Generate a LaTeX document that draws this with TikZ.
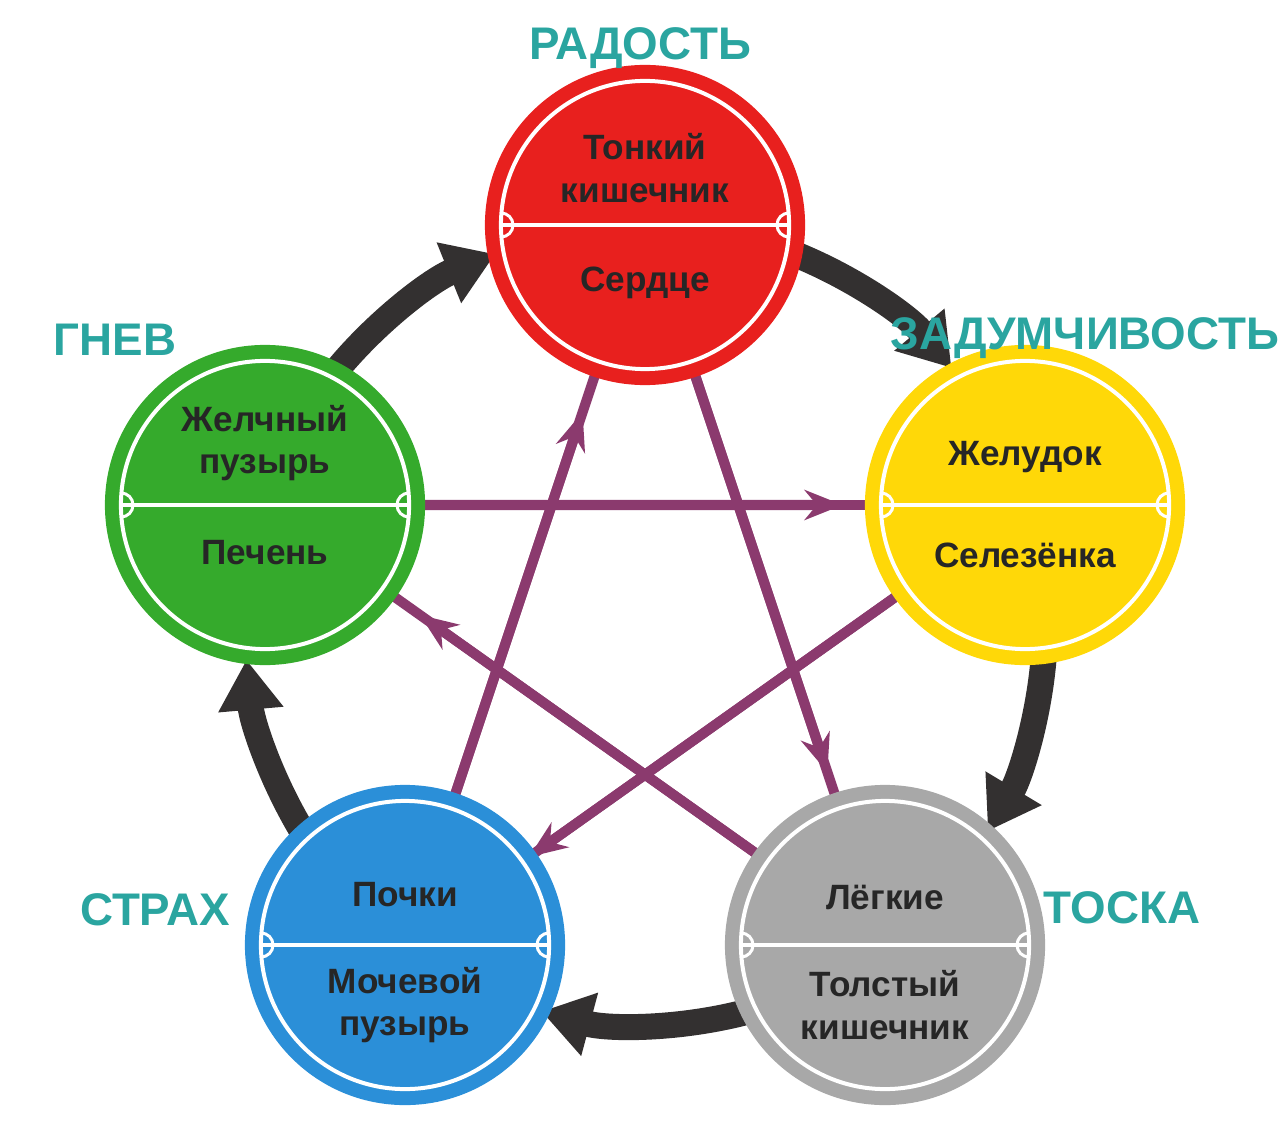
\documentclass[tikz,border=0pt]{standalone}
\usepackage{fontspec}
\setmainfont{Liberation Sans}
\usetikzlibrary{arrows.meta,calc}
\definecolor{cred}{HTML}{E8201E}
\definecolor{cgreen}{HTML}{35AA2C}
\definecolor{cyellow}{HTML}{FFD808}
\definecolor{cblue}{HTML}{2B8FD8}
\definecolor{cgray}{HTML}{A8A8A8}
\definecolor{teal2}{HTML}{2AA5A0}
\definecolor{plum}{HTML}{8B3A6E}
\definecolor{dark}{HTML}{333030}
\tikzset{
 organ/.style={circle,minimum size=3.2cm,inner sep=0pt},
 emo/.style={text=teal2,font=\bfseries\fontsize{13}{13}\selectfont},
 txt/.style={font=\bfseries\fontsize{10}{12}\selectfont,text=black!85,align=center},
 cyc/.style={draw=dark,line width=0.26cm,-{Triangle[length=0.5cm,width=0.62cm]}},
 star/.style={draw=plum,line width=0.1cm},
 starh/.style={draw=plum,line width=0.1cm,-{Stealth[length=0.38cm,width=0.3cm]}}
}
\begin{document}
\begin{tikzpicture}[x=0.01cm,y=-0.01cm]
\useasboundingbox (0,0) rectangle (1280,1134);
\coordinate (C) at (645,625);
% cycle arrows
\draw[cyc] ($(C)+(69:400 and -400)$) arc[start angle=69,end angle=40,radius=4cm];
\draw[cyc] ($(C)+(-4:400 and -400)$) arc[start angle=-4,end angle=-31,radius=4cm];
\draw[cyc] ($(C)+(-75:400 and -400)$) arc[start angle=-75,end angle=-105,radius=4cm];
\draw[cyc] ($(C)+(-148:400 and -400)$) arc[start angle=-148,end angle=-175,radius=4cm];
\draw[cyc] ($(C)+(141:400 and -400)$) arc[start angle=141,end angle=112,radius=4cm];
% nodes
\coordinate (pr) at (645,225);
\coordinate (py) at (1025,505);
\coordinate (pg) at (885,945);
\coordinate (pb) at (405,945);
\coordinate (pgr) at (265,505);
% star
\draw[star] (pgr)--(py); \draw[starh] (pgr)--($(pgr)!0.76!(py)$);
\draw[star] (pb)--(pr); \draw[starh] (pb)--($(pb)!0.74!(pr)$);
\draw[star] (pr)--(pg); \draw[starh] (pr)--($(pr)!0.76!(pg)$);
\draw[star] (py)--(pb); \draw[starh] (py)--($(py)!0.80!(pb)$);
\draw[star] (pg)--(pgr); \draw[starh] (pg)--($(pg)!0.75!(pgr)$);
% circles
\foreach \p/\c/\n in {pr/cred/red,py/cyellow/yel,pg/cgray/gry,pb/cblue/blu,pgr/cgreen/grn}{
  \node[organ,fill=\c] (\n) at (\p) {};
  \draw[white,line width=0.04cm] (\n.center) circle (1.44cm);
  \draw[white,line width=0.04cm] ($(\n.center)+(-144,0)$) -- ($(\n.center)+(144,0)$);
  \draw[white,line width=0.03cm] ($(\n.center)+(-144,-12)$) arc[start angle=90,end angle=-90,radius=0.12cm];
  \draw[white,line width=0.03cm] ($(\n.center)+(144,-12)$) arc[start angle=90,end angle=270,radius=0.12cm];
}
\node[txt] (t1) at (645,168) {Тонкий\\кишечник};
\node[txt] (t2) at (645,283) {Сердце};
\node[txt] (t3) at (1025,457) {Желудок};
\node[txt] (t4) at (1025,555) {Селезёнка};
\node[txt] (t5) at (265,443) {Желчный\\пузырь};
\node[txt] (t6) at (265,553) {Печень};
\node[txt] (t7) at (405,895) {Почки};
\node[txt] (t8) at (405,1005) {Мочевой\\пузырь};
\node[txt] (t9) at (885,897) {Лёгкие};
\node[txt] (t10) at (885,1005) {Толстый\\кишечник};
% emotions
\node[emo] (e1) at (640,48) {РАДОСТЬ};
\node[emo] (e2) at (1085,338) {ЗАДУМЧИВОСТЬ};
\node[emo] (e3) at (115,340) {ГНЕВ};
\node[emo] (e4) at (155,910) {СТРАХ};
\node[emo] (e5) at (1122,908) {ТОСКА};
\end{tikzpicture}
\end{document}
